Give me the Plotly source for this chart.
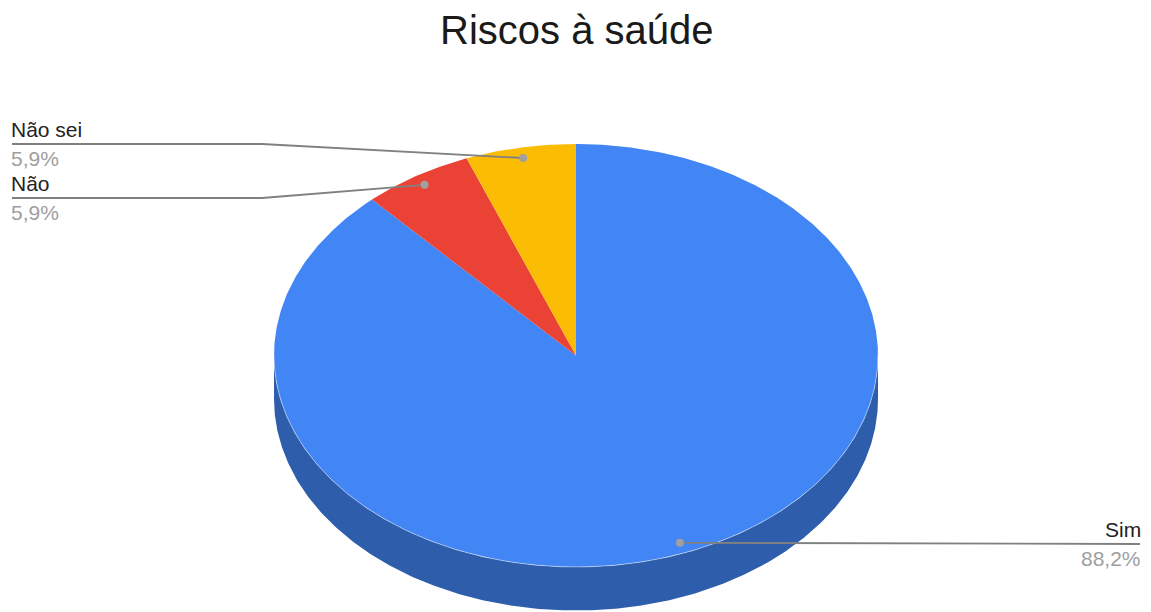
import math
import plotly.graph_objects as go

# Chart data
labels = ["Sim", "Não", "Não sei"]
values = [88.2, 5.9, 5.9]
top_colors = ["#4285F4", "#EA4335", "#FBBC04"]
side_colors = ["#2E5DAC", "#A4302A", "#B08403"]
title_text = "Riscos à saúde"

# Pie geometry in page pixels (y grows downward)
W, H = 1151, 612
cx, cy = 576.0, 355.5
rx, ry = 302.0, 211.5
depth = 43.5


def pt(t_deg, f=1.0, dy=0.0):
    t = math.radians(t_deg)
    return cx + rx * f * math.sin(t), cy - ry * f * math.cos(t) + dy


def arc(a0, a1, f=1.0, dy=0.0, n=None):
    if n is None:
        n = max(2, int(abs(a1 - a0) * 2) + 1)
    xs, ys = [], []
    for i in range(n):
        a = a0 + (a1 - a0) * i / (n - 1)
        x, y = pt(a, f, dy)
        xs.append(x)
        ys.append(y)
    return xs, ys


total = sum(values)
bounds = []
acc = 0.0
for v in values:
    a0 = acc / total * 360.0
    acc += v
    a1 = acc / total * 360.0
    bounds.append((a0, a1))

fig = go.Figure()

# Front wall of the disc (visible between 90° and 270°)
for (a0, a1), col in zip(bounds, side_colors):
    s0, s1 = max(a0, 90.0), min(a1, 270.0)
    if s1 <= s0:
        continue
    xt, yt = arc(s0, s1)
    xb, yb = arc(s1, s0, dy=depth)
    fig.add_trace(go.Scatter(
        x=xt + xb + [xt[0]], y=yt + yb + [yt[0]],
        mode="lines", fill="toself", fillcolor=col,
        line=dict(width=0), hoverinfo="skip", showlegend=False))

# Top face slices
for (a0, a1), col, lab in zip(bounds, top_colors, labels):
    xs, ys = arc(a0, a1)
    fig.add_trace(go.Scatter(
        x=[cx] + xs + [cx], y=[cy] + ys + [cy],
        mode="lines", fill="toself", fillcolor=col,
        line=dict(width=0), name=lab, hoverinfo="skip", showlegend=False))

# Subtle light rim along the front edge of the top face
xr, yr = arc(90, 270)
fig.add_trace(go.Scatter(x=xr, y=yr, mode="lines",
                         line=dict(color="rgba(255,255,255,0.45)", width=1),
                         hoverinfo="skip", showlegend=False))

# Leader lines and labels
line_col = "#808080"
dot_col = "#a0a0a0"
label_col = "#222222"
pct_col = "#9e9e9e"
fs = 21

# label placement: (elbow x, line y, text x, anchor)
placement = {
    "Sim": (None, 544.0, 1143.0, "right"),
    "Não": (262.0, 198.0, 9.0, "left"),
    "Não sei": (262.0, 144.0, 9.0, "left"),
}
line_end = {"Sim": 1140.0, "Não": 12.0, "Não sei": 12.0}

annotations = []
for (a0, a1), lab, v in zip(bounds, labels, values):
    mid = (a0 + a1) / 2.0
    dx, dy_ = pt(mid, 0.95)
    elbow_x, ly, tx, anchor = placement[lab]
    ex = line_end[lab]
    if elbow_x is None:
        lx = [dx, ex]
        lyy = [dy_, ly]
    else:
        lx = [dx, elbow_x, ex]
        lyy = [dy_, ly, ly]
    fig.add_trace(go.Scatter(x=lx, y=lyy, mode="lines",
                             line=dict(color=line_col, width=1.8),
                             hoverinfo="skip", showlegend=False))
    fig.add_trace(go.Scatter(x=[dx], y=[dy_], mode="markers",
                             marker=dict(color=dot_col, size=8),
                             hoverinfo="skip", showlegend=False))
    pct = f"{v:.1f}".replace(".", ",") + "%"
    annotations.append(dict(x=tx, y=ly - 15, xref="x", yref="y", text=lab,
                            showarrow=False, xanchor=anchor, yanchor="middle",
                            font=dict(family="Liberation Sans, Arial", size=fs, color=label_col)))
    annotations.append(dict(x=tx, y=ly + 14, xref="x", yref="y", text=pct,
                            showarrow=False, xanchor=anchor, yanchor="middle",
                            font=dict(family="Liberation Sans, Arial", size=fs, color=pct_col)))

annotations.append(dict(x=576, y=30, xref="x", yref="y", text=title_text,
                        showarrow=False, xanchor="center", yanchor="middle",
                        font=dict(family="Liberation Sans, Arial", size=40, color="#1a1a1a")))

fig.update_layout(
    width=W, height=H,
    margin=dict(l=0, r=0, t=0, b=0),
    paper_bgcolor="white", plot_bgcolor="white",
    xaxis=dict(range=[0, W], visible=False, fixedrange=True),
    yaxis=dict(range=[H, 0], visible=False, fixedrange=True),
    annotations=annotations,
    showlegend=False,
)

fig.write_html("out.html", config={"displayModeBar": False})
